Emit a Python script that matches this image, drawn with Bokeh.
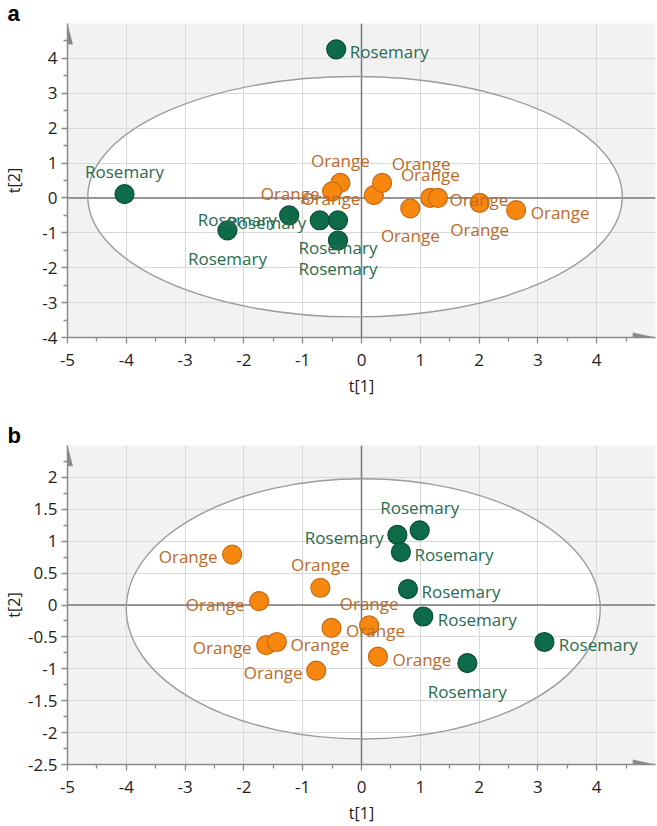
import math
from bokeh.plotting import figure
from bokeh.models import ColumnDataSource, Span, PolyAnnotation, FixedTicker, Range1d
from bokeh.layouts import column
from bokeh.embed import file_html
from bokeh.resources import INLINE
from bokeh.core.properties import value

# ---------------- data ----------------
# Panel a
a_ros_t1 = [-0.43, -4.03, -2.28, -1.23, -0.71, -0.40, -0.40]
a_ros_t2 = [4.26, 0.11, -0.93, -0.50, -0.64, -0.64, -1.22]
a_org_t1 = [-0.36, -0.50, 0.21, 0.35, 0.83, 1.17, 1.30, 2.01, 2.63]
a_org_t2 = [0.43, 0.19, 0.08, 0.43, -0.30, 0.00, 0.00, -0.14, -0.35]
# Panel b
b_ros_t1 = [0.99, 0.61, 0.67, 0.79, 1.05, 3.11, 1.80]
b_ros_t2 = [1.17, 1.10, 0.83, 0.25, -0.18, -0.58, -0.91]
b_org_t1 = [-2.20, -1.74, -0.70, -0.51, 0.13, -1.62, -1.44, -0.77, 0.28]
b_org_t2 = [0.79, 0.06, 0.27, -0.36, -0.32, -0.63, -0.58, -1.03, -0.81]

# Hotelling ellipses (centre t1, centre t2, full width, full height)
a_ellipse = [-0.11, 0.035, 9.09, 6.89]
b_ellipse = [0.03, -0.06, 8.06, 4.08]

# axis ticks
x_major = [-5, -4, -3, -2, -1, 0, 1, 2, 3, 4]
x_labels = ["-5", "-4", "-3", "-2", "-1", "0", "1", "2", "3", "4"]
x_minor = [-4.5, -3.5, -2.5, -1.5, -0.5, 0.5, 1.5, 2.5, 3.5, 4.5]
a_y_major = [-4, -3, -2, -1, 0, 1, 2, 3, 4]
a_y_labels = ["-4", "-3", "-2", "-1", "0", "1", "2", "3", "4"]
a_y_minor = [-3.5, -2.5, -1.5, -0.5, 0.5, 1.5, 2.5, 3.5, 4.5]
b_y_major = [-2.5, -2, -1.5, -1, -0.5, 0, 0.5, 1, 1.5, 2]
b_y_labels = ["-2.5", "-2", "-1.5", "-1", "-0.5", "0", "0.5", "1", "1.5", "2"]
b_y_minor = [-2.25, -1.75, -1.25, -0.75, -0.25, 0.25, 0.75, 1.25, 1.75, 2.25]

# label placement (screen px offsets of each point's label, +y = down)
a_ros_dx = [53, 0, 0, -52, -53, 0, 0]
a_ros_dy = [2, -23, 28, 4, 2, 27, 28]
a_org_dx = [0, -42, -43, 39, 0, 0, 41, 0, 44]
a_org_dy = [-22, 2, 3, -19, 27, -23, 2, 27, 2]
b_ros_dx = [0, -53, 53, 53, 54, 54, 0]
b_ros_dy = [-23, 3, 2, 2, 3, 2, 28]
b_org_dx = [-44, -44, 0, 44, 0, -44, 43, -43, 44]
b_org_dy = [2, 3, -23, 3, -22, 2, 2, 2, 3]

# ---------------- style ----------------
GREEN_FILL, GREEN_LINE, GREEN_TEXT = "#0e6b4a", "#0a4d35", "#2a6c50"
ORANGE_FILL, ORANGE_LINE, ORANGE_TEXT = "#f7870f", "#c66a16", "#bc6a28"
BG = "#f2f2f2"
GRID = "#d9d9d9"
AXIS = "#8a8a8a"
FONT = "Open Sans"
LEFT = 62
RIGHT = 2
FRAME_W = 593


def panel(letter, ros, org, ell, yr, y_major, y_labels, y_minor,
          top, frame_h, bottom, ylab_standoff):
    xr = (-5, 5)
    p = figure(width=LEFT + FRAME_W + RIGHT, height=top + frame_h + bottom,
               x_range=Range1d(*xr), y_range=Range1d(*yr),
               min_border_left=LEFT, min_border_right=RIGHT,
               min_border_top=top, min_border_bottom=bottom,
               output_backend="svg", toolbar_location=None,
               background_fill_color=BG, border_fill_color="white",
               outline_line_color=None, title=letter)
    # panel letter
    p.title.text_font = "Liberation Sans"
    p.title.text_font_style = "bold"
    p.title.text_font_size = "22px"
    p.title.text_color = "black"
    p.title.align = "left"
    p.title.offset = -LEFT + 2
    p.title.standoff = -4
    p.title.vertical_align = "bottom"

    # white confidence ellipse (under the grid)
    p.ellipse(x=[ell[0]], y=[ell[1]], width=[ell[2]], height=[ell[3]],
              fill_color="white", line_color=None, level="image")
    p.grid.grid_line_color = GRID
    p.grid.grid_line_width = 1
    p.xgrid.ticker = FixedTicker(ticks=x_major)
    p.ygrid.ticker = FixedTicker(ticks=y_major)
    for dim in ("height", "width"):
        p.add_layout(Span(location=0, dimension=dim, line_color="#7a7a7a",
                          line_width=1.5, level="underlay"))
    p.ellipse(x=[ell[0]], y=[ell[1]], width=[ell[2]], height=[ell[3]],
              fill_color=None, line_color="#9c9c9c", line_width=1.4)

    for (t1, t2, dx, dy, name, fc, lc, tc) in (ros, org):
        src = ColumnDataSource(dict(x=t1, y=t2, dx=dx, dy=dy, lab=[name] * len(t1)))
        p.scatter(x="x", y="y", source=src, size=19, fill_color=fc,
                  line_color=lc, line_width=1.2)
        p.text(x="x", y="y", text="lab", x_offset="dx", y_offset="dy", source=src,
               text_align="center", text_baseline="middle",
               text_font=value(FONT), text_font_size="17px", text_color=tc)

    # axes
    p.xaxis.ticker = FixedTicker(ticks=x_major, minor_ticks=x_minor)
    p.yaxis.ticker = FixedTicker(ticks=y_major, minor_ticks=y_minor)
    p.xaxis.major_label_overrides = {v: s for v, s in zip(x_major, x_labels)}
    p.yaxis.major_label_overrides = {v: s for v, s in zip(y_major, y_labels)}
    p.xaxis.axis_label = "t[1]"
    p.yaxis.axis_label = "t[2]"
    for ax in (p.xaxis[0], p.yaxis[0]):
        ax.axis_line_color = AXIS
        ax.axis_line_width = 1.5
        ax.major_tick_line_color = AXIS
        ax.minor_tick_line_color = AXIS
        ax.major_tick_line_width = 1.3
        ax.minor_tick_line_width = 1.3
        ax.major_tick_in = 0
        ax.major_tick_out = 6
        ax.minor_tick_in = 0
        ax.minor_tick_out = 4
        ax.major_label_text_font = FONT
        ax.major_label_text_font_size = "17px"
        ax.major_label_text_color = "#1e1e1e"
        ax.axis_label_text_font = FONT
        ax.axis_label_text_font_size = "16px"
        ax.axis_label_text_font_style = "normal"
        ax.axis_label_text_color = "#1e1e1e"
    p.xaxis.major_label_standoff = 10
    p.yaxis.major_label_standoff = 4
    p.xaxis.axis_label_standoff = 6
    p.yaxis.axis_label_standoff = ylab_standoff

    # axis arrows
    xpp = (xr[1] - xr[0]) / FRAME_W
    ypp = (yr[1] - yr[0]) / frame_h
    p.add_layout(PolyAnnotation(
        xs=[xr[0] - 5.5 * xpp, xr[0], xr[0] + 5.5 * xpp],
        ys=[yr[1] - 21 * ypp, yr[1], yr[1] - 21 * ypp],
        fill_color=AXIS, fill_alpha=1, line_color=None))
    p.add_layout(PolyAnnotation(
        xs=[xr[1] - 23 * xpp, xr[1], xr[1] - 23 * xpp],
        ys=[yr[0] + 5 * ypp, yr[0], yr[0] - 5 * ypp],
        fill_color=AXIS, fill_alpha=1, line_color=None))
    return p


pa = panel("a",
           (a_ros_t1, a_ros_t2, a_ros_dx, a_ros_dy, "Rosemary", GREEN_FILL, GREEN_LINE, GREEN_TEXT),
           (a_org_t1, a_org_t2, a_org_dx, a_org_dy, "Orange", ORANGE_FILL, ORANGE_LINE, ORANGE_TEXT),
           a_ellipse, (-4, 5), a_y_major, a_y_labels, a_y_minor,
           top=23, frame_h=314, bottom=84, ylab_standoff=14)
pb = panel("b",
           (b_ros_t1, b_ros_t2, b_ros_dx, b_ros_dy, "Rosemary", GREEN_FILL, GREEN_LINE, GREEN_TEXT),
           (b_org_t1, b_org_t2, b_org_dx, b_org_dy, "Orange", ORANGE_FILL, ORANGE_LINE, ORANGE_TEXT),
           b_ellipse, (-2.5, 2.5), b_y_major, b_y_labels, b_y_minor,
           top=24, frame_h=321, bottom=60, ylab_standoff=0)

layout = column(pa, pb, spacing=0)
open("out.html", "w").write(file_html(layout, INLINE))
